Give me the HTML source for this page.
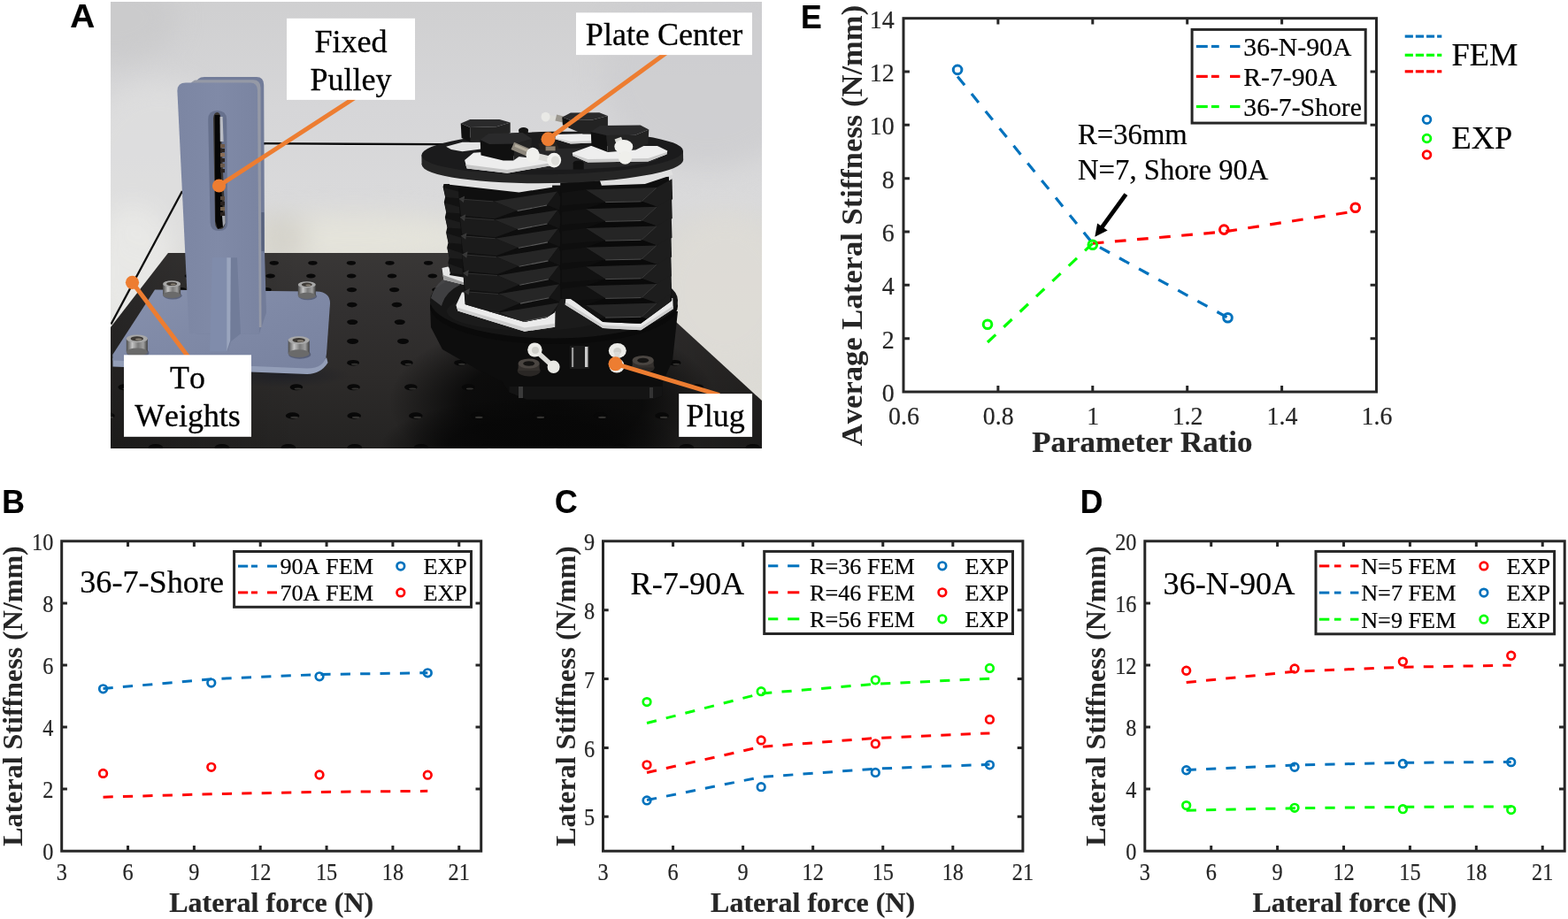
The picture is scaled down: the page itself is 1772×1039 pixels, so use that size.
<!DOCTYPE html>
<html lang="en"><head><meta charset="utf-8"><title>Lateral stiffness test</title>
<style>html,body{margin:0;padding:0;background:#fff}body{width:1772px;height:1039px;overflow:hidden}svg{display:block}text{white-space:pre;font-kerning:none;font-variant-ligatures:none}</style>
</head><body>
<svg width="1772" height="1039" viewBox="0 0 1772 1039" role="img" aria-label="Lateral stiffness test setup and results">
<rect width="1772" height="1039" fill="#fff"/>
<defs>
<clipPath id="pc"><rect x="125" y="2" width="736" height="505"/></clipPath>
<filter id="sf" x="-5%" y="-5%" width="110%" height="110%" color-interpolation-filters="sRGB"><feGaussianBlur stdDeviation="0.7"/></filter>
<filter id="bf" filterUnits="userSpaceOnUse" x="0" y="-150" width="1000" height="800" color-interpolation-filters="sRGB"><feGaussianBlur stdDeviation="14"/></filter>
<linearGradient id="bg" x1="0" y1="0" x2="0" y2="1"><stop offset="0" stop-color="#cfcfd0"/><stop offset="0.25" stop-color="#d6d6d8"/><stop offset="0.45" stop-color="#dadadb"/><stop offset="0.56" stop-color="#d8d7d3"/><stop offset="1" stop-color="#e0ded8"/></linearGradient>
<linearGradient id="tb" gradientUnits="userSpaceOnUse" x1="0" y1="286" x2="0" y2="507"><stop offset="0" stop-color="#393736"/><stop offset="0.3" stop-color="#323030"/><stop offset="0.62" stop-color="#2d2b2a"/><stop offset="1" stop-color="#242322"/></linearGradient>
<linearGradient id="tbr" x1="0" y1="0" x2="1" y2="0"><stop offset="0" stop-color="#000" stop-opacity="0.25"/><stop offset="0.3" stop-color="#000" stop-opacity="0"/><stop offset="0.75" stop-color="#000" stop-opacity="0"/><stop offset="1" stop-color="#000" stop-opacity="0.25"/></linearGradient>
<linearGradient id="st" x1="0" y1="0" x2="1" y2="0"><stop offset="0" stop-color="#7c86a3"/><stop offset="0.5" stop-color="#808aa7"/><stop offset="1" stop-color="#7a84a1"/></linearGradient>
<linearGradient id="bp" x1="0" y1="0" x2="1" y2="1"><stop offset="0" stop-color="#8791ad"/><stop offset="0.5" stop-color="#7f89a6"/><stop offset="1" stop-color="#78829f"/></linearGradient>
<linearGradient id="scr" x1="0" y1="0" x2="1" y2="0"><stop offset="0" stop-color="#4a4a4a"/><stop offset="0.28" stop-color="#c4c4c4"/><stop offset="0.55" stop-color="#7a7a7a"/><stop offset="0.8" stop-color="#a0a0a0"/><stop offset="1" stop-color="#3e3e3e"/></linearGradient>
<linearGradient id="bl" x1="0" y1="0" x2="1" y2="0"><stop offset="0" stop-color="#141414"/><stop offset="0.35" stop-color="#262626"/><stop offset="1" stop-color="#161616"/></linearGradient>
</defs>
<g clip-path="url(#pc)">
<g filter="url(#sf)">
<rect x="115" y="-8" width="756" height="525" fill="url(#bg)" />
<g filter="url(#bf)">
<ellipse cx="180" cy="190" rx="90" ry="100" fill="#dedede" opacity="0.8"/>
<ellipse cx="130" cy="20" rx="70" ry="50" fill="#c9c9ca" opacity="0.8"/>
<ellipse cx="800" cy="80" rx="120" ry="110" fill="#cdcdcf" opacity="0.8"/>
<ellipse cx="400" cy="272" rx="150" ry="30" fill="#e6e4dc" opacity="0.9"/>
<ellipse cx="318" cy="270" rx="30" ry="26" fill="#d0cec6" opacity="0.8"/>
<ellipse cx="820" cy="330" rx="80" ry="90" fill="#dedcd6" opacity="0.9"/>
<ellipse cx="150" cy="310" rx="50" ry="80" fill="#e9e9e7" opacity="0.95"/>
</g>
<polygon points="190,286 679,286 861,453 861,517 115,517 115,383" fill="url(#tb)" />
<polygon points="190,286 679,286 861,453 861,517 115,517 115,383" fill="url(#tbr)" />
<radialGradient id="sh"><stop offset="0" stop-color="#070707" stop-opacity="0.95"/><stop offset="0.55" stop-color="#070707" stop-opacity="0.85"/><stop offset="1" stop-color="#070707" stop-opacity="0"/></radialGradient>
<ellipse cx="625" cy="455" rx="185" ry="95" fill="url(#sh)" />
<ellipse cx="600" cy="505" rx="170" ry="55" fill="url(#sh)" />
<radialGradient id="sh2"><stop offset="0" stop-color="#1c1e26" stop-opacity="0.8"/><stop offset="1" stop-color="#1c1e26" stop-opacity="0"/></radialGradient>
<ellipse cx="320" cy="424" rx="75" ry="14" fill="url(#sh2)" />
<ellipse cx="222.7" cy="297.3" rx="5.1" ry="2.4" fill="#080808" />
<ellipse cx="266.2" cy="297.3" rx="5.1" ry="2.4" fill="#080808" />
<ellipse cx="309.8" cy="297.3" rx="5.1" ry="2.4" fill="#080808" />
<ellipse cx="353.4" cy="297.3" rx="5.1" ry="2.4" fill="#080808" />
<ellipse cx="396.9" cy="297.3" rx="5.1" ry="2.4" fill="#080808" />
<ellipse cx="440.5" cy="297.3" rx="5.1" ry="2.4" fill="#080808" />
<ellipse cx="484.1" cy="297.3" rx="5.1" ry="2.4" fill="#080808" />
<ellipse cx="527.6" cy="297.3" rx="5.1" ry="2.4" fill="#080808" />
<ellipse cx="571.2" cy="297.3" rx="5.1" ry="2.4" fill="#080808" />
<ellipse cx="614.8" cy="297.3" rx="5.1" ry="2.4" fill="#080808" />
<ellipse cx="658.3" cy="297.3" rx="5.1" ry="2.4" fill="#080808" />
<ellipse cx="214" cy="312.1" rx="5.3" ry="2.5" fill="#080808" />
<ellipse cx="259.8" cy="312.1" rx="5.3" ry="2.5" fill="#080808" />
<ellipse cx="305.6" cy="312.1" rx="5.3" ry="2.5" fill="#080808" />
<ellipse cx="351.4" cy="312.1" rx="5.3" ry="2.5" fill="#080808" />
<ellipse cx="397.2" cy="312.1" rx="5.3" ry="2.5" fill="#080808" />
<ellipse cx="443" cy="312.1" rx="5.3" ry="2.5" fill="#080808" />
<ellipse cx="488.8" cy="312.1" rx="5.3" ry="2.5" fill="#080808" />
<ellipse cx="534.6" cy="312.1" rx="5.3" ry="2.5" fill="#080808" />
<ellipse cx="580.4" cy="312.1" rx="5.3" ry="2.5" fill="#080808" />
<ellipse cx="626.2" cy="312.1" rx="5.3" ry="2.5" fill="#080808" />
<ellipse cx="672" cy="312.1" rx="5.3" ry="2.5" fill="#080808" />
<ellipse cx="205" cy="327.6" rx="5.6" ry="2.6" fill="#080808" />
<ellipse cx="253.1" cy="327.6" rx="5.6" ry="2.6" fill="#080808" />
<ellipse cx="301.2" cy="327.6" rx="5.6" ry="2.6" fill="#080808" />
<ellipse cx="349.4" cy="327.6" rx="5.6" ry="2.6" fill="#080808" />
<ellipse cx="397.5" cy="327.6" rx="5.6" ry="2.6" fill="#080808" />
<ellipse cx="445.6" cy="327.6" rx="5.6" ry="2.6" fill="#080808" />
<ellipse cx="493.8" cy="327.6" rx="5.6" ry="2.6" fill="#080808" />
<ellipse cx="541.9" cy="327.6" rx="5.6" ry="2.6" fill="#080808" />
<ellipse cx="590" cy="327.6" rx="5.6" ry="2.6" fill="#080808" />
<ellipse cx="638.2" cy="327.6" rx="5.6" ry="2.6" fill="#080808" />
<ellipse cx="686.3" cy="327.6" rx="5.6" ry="2.6" fill="#080808" />
<ellipse cx="195.1" cy="344.6" rx="5.8" ry="2.8" fill="#080808" />
<ellipse cx="245.8" cy="344.6" rx="5.8" ry="2.8" fill="#080808" />
<ellipse cx="296.4" cy="344.6" rx="5.8" ry="2.8" fill="#080808" />
<ellipse cx="347.1" cy="344.6" rx="5.8" ry="2.8" fill="#080808" />
<ellipse cx="397.8" cy="344.6" rx="5.8" ry="2.8" fill="#080808" />
<ellipse cx="448.5" cy="344.6" rx="5.8" ry="2.8" fill="#080808" />
<ellipse cx="499.2" cy="344.6" rx="5.8" ry="2.8" fill="#080808" />
<ellipse cx="549.9" cy="344.6" rx="5.8" ry="2.8" fill="#080808" />
<ellipse cx="600.6" cy="344.6" rx="5.8" ry="2.8" fill="#080808" />
<ellipse cx="651.3" cy="344.6" rx="5.8" ry="2.8" fill="#080808" />
<ellipse cx="702" cy="344.6" rx="5.8" ry="2.8" fill="#080808" />
<ellipse cx="183.7" cy="364.1" rx="6.1" ry="2.9" fill="#080808" />
<ellipse cx="237.3" cy="364.1" rx="6.1" ry="2.9" fill="#080808" />
<ellipse cx="290.9" cy="364.1" rx="6.1" ry="2.9" fill="#080808" />
<ellipse cx="344.6" cy="364.1" rx="6.1" ry="2.9" fill="#080808" />
<ellipse cx="398.2" cy="364.1" rx="6.1" ry="2.9" fill="#080808" />
<ellipse cx="451.8" cy="364.1" rx="6.1" ry="2.9" fill="#080808" />
<ellipse cx="505.5" cy="364.1" rx="6.1" ry="2.9" fill="#080808" />
<ellipse cx="559.1" cy="364.1" rx="6.1" ry="2.9" fill="#080808" />
<ellipse cx="612.7" cy="364.1" rx="6.1" ry="2.9" fill="#080808" />
<ellipse cx="666.3" cy="364.1" rx="6.1" ry="2.9" fill="#080808" />
<ellipse cx="720" cy="364.1" rx="6.1" ry="2.9" fill="#080808" />
<ellipse cx="171" cy="385.8" rx="6.5" ry="3.1" fill="#080808" />
<ellipse cx="227.9" cy="385.8" rx="6.5" ry="3.1" fill="#080808" />
<ellipse cx="284.8" cy="385.8" rx="6.5" ry="3.1" fill="#080808" />
<ellipse cx="341.7" cy="385.8" rx="6.5" ry="3.1" fill="#080808" />
<ellipse cx="398.6" cy="385.8" rx="6.5" ry="3.1" fill="#080808" />
<ellipse cx="455.5" cy="385.8" rx="6.5" ry="3.1" fill="#080808" />
<ellipse cx="512.4" cy="385.8" rx="6.5" ry="3.1" fill="#080808" />
<ellipse cx="569.3" cy="385.8" rx="6.5" ry="3.1" fill="#080808" />
<ellipse cx="626.2" cy="385.8" rx="6.5" ry="3.1" fill="#080808" />
<ellipse cx="683.1" cy="385.8" rx="6.5" ry="3.1" fill="#080808" />
<ellipse cx="740" cy="385.8" rx="6.5" ry="3.1" fill="#080808" />
<ellipse cx="156.8" cy="410.2" rx="6.9" ry="3.3" fill="#080808" />
<ellipse cx="158.5" cy="411.8" rx="3.8" ry="1" fill="#5a5754" opacity="0.55"/>
<ellipse cx="217.4" cy="410.2" rx="6.9" ry="3.3" fill="#080808" />
<ellipse cx="219.1" cy="411.8" rx="3.8" ry="1" fill="#5a5754" opacity="0.55"/>
<ellipse cx="277.9" cy="410.2" rx="6.9" ry="3.3" fill="#080808" />
<ellipse cx="279.7" cy="411.8" rx="3.8" ry="1" fill="#5a5754" opacity="0.55"/>
<ellipse cx="338.5" cy="410.2" rx="6.9" ry="3.3" fill="#080808" />
<ellipse cx="340.2" cy="411.8" rx="3.8" ry="1" fill="#5a5754" opacity="0.55"/>
<ellipse cx="399.1" cy="410.2" rx="6.9" ry="3.3" fill="#080808" />
<ellipse cx="400.8" cy="411.8" rx="3.8" ry="1" fill="#5a5754" opacity="0.55"/>
<ellipse cx="459.7" cy="410.2" rx="6.9" ry="3.3" fill="#080808" />
<ellipse cx="461.4" cy="411.8" rx="3.8" ry="1" fill="#5a5754" opacity="0.55"/>
<ellipse cx="520.2" cy="410.2" rx="6.9" ry="3.3" fill="#080808" />
<ellipse cx="521.9" cy="411.8" rx="3.8" ry="1" fill="#5a5754" opacity="0.55"/>
<ellipse cx="580.8" cy="410.2" rx="6.9" ry="3.3" fill="#080808" />
<ellipse cx="582.5" cy="411.8" rx="3.8" ry="1" fill="#5a5754" opacity="0.55"/>
<ellipse cx="641.4" cy="410.2" rx="6.9" ry="3.3" fill="#080808" />
<ellipse cx="643.1" cy="411.8" rx="3.8" ry="1" fill="#5a5754" opacity="0.55"/>
<ellipse cx="701.9" cy="410.2" rx="6.9" ry="3.3" fill="#080808" />
<ellipse cx="703.7" cy="411.8" rx="3.8" ry="1" fill="#5a5754" opacity="0.55"/>
<ellipse cx="762.5" cy="410.2" rx="6.9" ry="3.3" fill="#080808" />
<ellipse cx="764.2" cy="411.8" rx="3.8" ry="1" fill="#5a5754" opacity="0.55"/>
<ellipse cx="140.7" cy="437.8" rx="7.3" ry="3.5" fill="#080808" />
<ellipse cx="142.5" cy="439.5" rx="4" ry="1" fill="#5a5754" opacity="0.55"/>
<ellipse cx="205.4" cy="437.8" rx="7.3" ry="3.5" fill="#080808" />
<ellipse cx="207.2" cy="439.5" rx="4" ry="1" fill="#5a5754" opacity="0.55"/>
<ellipse cx="270.2" cy="437.8" rx="7.3" ry="3.5" fill="#080808" />
<ellipse cx="272" cy="439.5" rx="4" ry="1" fill="#5a5754" opacity="0.55"/>
<ellipse cx="334.9" cy="437.8" rx="7.3" ry="3.5" fill="#080808" />
<ellipse cx="336.7" cy="439.5" rx="4" ry="1" fill="#5a5754" opacity="0.55"/>
<ellipse cx="399.6" cy="437.8" rx="7.3" ry="3.5" fill="#080808" />
<ellipse cx="401.4" cy="439.5" rx="4" ry="1" fill="#5a5754" opacity="0.55"/>
<ellipse cx="464.3" cy="437.8" rx="7.3" ry="3.5" fill="#080808" />
<ellipse cx="466.2" cy="439.5" rx="4" ry="1" fill="#5a5754" opacity="0.55"/>
<ellipse cx="529.1" cy="437.8" rx="7.3" ry="3.5" fill="#080808" />
<ellipse cx="530.9" cy="439.5" rx="4" ry="1" fill="#5a5754" opacity="0.55"/>
<ellipse cx="593.8" cy="437.8" rx="7.3" ry="3.5" fill="#080808" />
<ellipse cx="595.6" cy="439.5" rx="4" ry="1" fill="#5a5754" opacity="0.55"/>
<ellipse cx="658.5" cy="437.8" rx="7.3" ry="3.5" fill="#080808" />
<ellipse cx="660.3" cy="439.5" rx="4" ry="1" fill="#5a5754" opacity="0.55"/>
<ellipse cx="723.2" cy="437.8" rx="7.3" ry="3.5" fill="#080808" />
<ellipse cx="725.1" cy="439.5" rx="4" ry="1" fill="#5a5754" opacity="0.55"/>
<ellipse cx="788" cy="437.8" rx="7.3" ry="3.5" fill="#080808" />
<ellipse cx="789.8" cy="439.5" rx="4" ry="1" fill="#5a5754" opacity="0.55"/>
<ellipse cx="121.9" cy="470" rx="7.8" ry="3.7" fill="#080808" />
<ellipse cx="123.9" cy="471.9" rx="4.3" ry="1.1" fill="#5a5754" opacity="0.55"/>
<ellipse cx="191.5" cy="470" rx="7.8" ry="3.7" fill="#080808" />
<ellipse cx="193.4" cy="471.9" rx="4.3" ry="1.1" fill="#5a5754" opacity="0.55"/>
<ellipse cx="261.1" cy="470" rx="7.8" ry="3.7" fill="#080808" />
<ellipse cx="263" cy="471.9" rx="4.3" ry="1.1" fill="#5a5754" opacity="0.55"/>
<ellipse cx="330.6" cy="470" rx="7.8" ry="3.7" fill="#080808" />
<ellipse cx="332.6" cy="471.9" rx="4.3" ry="1.1" fill="#5a5754" opacity="0.55"/>
<ellipse cx="400.2" cy="470" rx="7.8" ry="3.7" fill="#080808" />
<ellipse cx="402.2" cy="471.9" rx="4.3" ry="1.1" fill="#5a5754" opacity="0.55"/>
<ellipse cx="469.8" cy="470" rx="7.8" ry="3.7" fill="#080808" />
<ellipse cx="471.7" cy="471.9" rx="4.3" ry="1.1" fill="#5a5754" opacity="0.55"/>
<ellipse cx="539.4" cy="470" rx="7.8" ry="3.7" fill="#080808" />
<ellipse cx="541.3" cy="471.9" rx="4.3" ry="1.1" fill="#5a5754" opacity="0.55"/>
<ellipse cx="609" cy="470" rx="7.8" ry="3.7" fill="#080808" />
<ellipse cx="610.9" cy="471.9" rx="4.3" ry="1.1" fill="#5a5754" opacity="0.55"/>
<ellipse cx="678.5" cy="470" rx="7.8" ry="3.7" fill="#080808" />
<ellipse cx="680.5" cy="471.9" rx="4.3" ry="1.1" fill="#5a5754" opacity="0.55"/>
<ellipse cx="748.1" cy="470" rx="7.8" ry="3.7" fill="#080808" />
<ellipse cx="750.1" cy="471.9" rx="4.3" ry="1.1" fill="#5a5754" opacity="0.55"/>
<ellipse cx="817.7" cy="470" rx="7.8" ry="3.7" fill="#080808" />
<ellipse cx="819.6" cy="471.9" rx="4.3" ry="1.1" fill="#5a5754" opacity="0.55"/>
<ellipse cx="100.9" cy="506" rx="8.3" ry="4" fill="#080808" />
<ellipse cx="103" cy="508" rx="4.6" ry="1.2" fill="#5a5754" opacity="0.55"/>
<ellipse cx="175.9" cy="506" rx="8.3" ry="4" fill="#080808" />
<ellipse cx="178" cy="508" rx="4.6" ry="1.2" fill="#5a5754" opacity="0.55"/>
<ellipse cx="250.9" cy="506" rx="8.3" ry="4" fill="#080808" />
<ellipse cx="253" cy="508" rx="4.6" ry="1.2" fill="#5a5754" opacity="0.55"/>
<ellipse cx="325.9" cy="506" rx="8.3" ry="4" fill="#080808" />
<ellipse cx="328" cy="508" rx="4.6" ry="1.2" fill="#5a5754" opacity="0.55"/>
<ellipse cx="400.9" cy="506" rx="8.3" ry="4" fill="#080808" />
<ellipse cx="403" cy="508" rx="4.6" ry="1.2" fill="#5a5754" opacity="0.55"/>
<ellipse cx="475.9" cy="506" rx="8.3" ry="4" fill="#080808" />
<ellipse cx="478" cy="508" rx="4.6" ry="1.2" fill="#5a5754" opacity="0.55"/>
<ellipse cx="550.9" cy="506" rx="8.3" ry="4" fill="#080808" />
<ellipse cx="553" cy="508" rx="4.6" ry="1.2" fill="#5a5754" opacity="0.55"/>
<ellipse cx="625.9" cy="506" rx="8.3" ry="4" fill="#080808" />
<ellipse cx="628" cy="508" rx="4.6" ry="1.2" fill="#5a5754" opacity="0.55"/>
<ellipse cx="700.9" cy="506" rx="8.3" ry="4" fill="#080808" />
<ellipse cx="703" cy="508" rx="4.6" ry="1.2" fill="#5a5754" opacity="0.55"/>
<ellipse cx="775.9" cy="506" rx="8.3" ry="4" fill="#080808" />
<ellipse cx="778" cy="508" rx="4.6" ry="1.2" fill="#5a5754" opacity="0.55"/>
<ellipse cx="850.9" cy="506" rx="8.3" ry="4" fill="#080808" />
<ellipse cx="853" cy="508" rx="4.6" ry="1.2" fill="#5a5754" opacity="0.55"/>
<line x1="206" y1="216" x2="125.5" y2="366.5" stroke="#0d0d0d" stroke-width="2.3" />
<path d="M293.5 162.2 L495 163.2 L545 162.7" fill="none" stroke="#0c0c0c" stroke-width="2.5"/>
<path d="M300 164 L495 165 L540 164.5" fill="none" stroke="#fff" stroke-width="0.8" opacity="0.6"/>
<path d="M127.5 405 L347 414.5 Q362 414.5 369 404 L370.5 410 Q363 422.5 347 423 L127.5 414.5 Z" fill="#939eb8"/>
<path d="M175 327.5 L358 329.5 Q373 330 373 343 L369 400 Q367.5 416.5 347 416.5 L127.5 407.5 L127.3 401 Z" fill="url(#bp)"/>
<ellipse cx="195.1" cy="334.2" rx="10.5" ry="4.2" fill="#3c4258" opacity="0.55"/>
<rect x="184.1" y="320.9" width="20" height="12.5" fill="url(#scr)" />
<ellipse cx="194.1" cy="333.4" rx="10" ry="3.6" fill="#6a6a6a" />
<ellipse cx="194.1" cy="320.9" rx="10" ry="3.6" fill="#a8a8a8" />
<ellipse cx="194.1" cy="320.9" rx="6" ry="2.2" fill="#3e3a36" />
<ellipse cx="195.6" cy="321.5" rx="3" ry="1" fill="#8a8378" />
<ellipse cx="347.8" cy="335.1" rx="10.5" ry="4.2" fill="#3c4258" opacity="0.55"/>
<rect x="336.8" y="321.8" width="20" height="12.5" fill="url(#scr)" />
<ellipse cx="346.8" cy="334.3" rx="10" ry="3.6" fill="#6a6a6a" />
<ellipse cx="346.8" cy="321.8" rx="10" ry="3.6" fill="#a8a8a8" />
<ellipse cx="346.8" cy="321.8" rx="6" ry="2.2" fill="#3e3a36" />
<ellipse cx="348.3" cy="322.4" rx="3" ry="1" fill="#8a8378" />
<ellipse cx="155.8" cy="398.9" rx="12.6" ry="5" fill="#3c4258" opacity="0.55"/>
<rect x="142.8" y="382.9" width="24" height="15" fill="url(#scr)" />
<ellipse cx="154.8" cy="397.9" rx="12" ry="4.3" fill="#6a6a6a" />
<ellipse cx="154.8" cy="382.9" rx="12" ry="4.3" fill="#a8a8a8" />
<ellipse cx="154.8" cy="382.9" rx="7.2" ry="2.6" fill="#3e3a36" />
<ellipse cx="156.6" cy="383.6" rx="3.6" ry="1.2" fill="#8a8378" />
<ellipse cx="338.7" cy="400.7" rx="12.6" ry="5" fill="#3c4258" opacity="0.55"/>
<rect x="325.7" y="384.6" width="24" height="15" fill="url(#scr)" />
<ellipse cx="337.7" cy="399.6" rx="12" ry="4.3" fill="#6a6a6a" />
<ellipse cx="337.7" cy="384.6" rx="12" ry="4.3" fill="#a8a8a8" />
<ellipse cx="337.7" cy="384.6" rx="7.2" ry="2.6" fill="#3e3a36" />
<ellipse cx="339.5" cy="385.4" rx="3.6" ry="1.2" fill="#8a8378" />
<path d="M221 96 Q222 87 231 87 L290 87 Q298 87 298.2 96 L299 284 L301 353.5 L293 377.2 L221 377.2 Z" fill="#727c99"/>
<path d="M214 100 Q214.5 90.3 224 90.3 L286 90.3 Q294.3 90.3 294.5 99 L295.5 370 L214 370 Z" fill="#9599a6"/>
<polygon points="295.3,240 298.4,240 298.6,284 295.5,284" fill="#58627d" />
<path d="M213.65 377.2 L200.4 103 Q200.2 93.4 210 93.4 L283 93.4 Q290.8 93.4 291 102 L292.9 377.2 Z" fill="url(#st)"/>
<path d="M235.2 135 Q235.2 125 245.5 125 Q256 125 256.2 135 L257.2 252 Q257.2 261 247.5 261 Q238 261 237.6 252 Z" fill="#67718d"/>
<path d="M241 134 Q241.5 127 245.5 127 Q249 127 249.2 134 L254.6 250 Q254.6 259 248.6 259 Q243.2 259 243 251 Z" fill="#3a3632"/>
<path d="M242.6 130 L248.4 130 L250 210 L253 256 L246 259 L243.4 250 Z" fill="#060606"/>
<path d="M248.6 132 L251.6 132 L252.6 160 L248.8 160 Z" fill="#b9bcc4"/>
<rect x="249" y="163" width="5" height="4.2" fill="#6f5a49" />
<rect x="249" y="168" width="5" height="4.2" fill="#2a2320" />
<rect x="249" y="173" width="5" height="4.2" fill="#8a6e58" />
<rect x="249" y="179" width="5" height="4.2" fill="#2a2320" />
<rect x="249" y="185" width="5" height="4.2" fill="#6b5a4c" />
<rect x="249" y="191" width="5" height="4.2" fill="#2a2320" />
<rect x="249" y="222" width="5" height="4.2" fill="#5a4a3e" />
<rect x="249" y="228" width="5" height="4.2" fill="#2a2320" />
<rect x="249" y="234" width="5" height="4.2" fill="#75624f" />
<rect x="249" y="240" width="5" height="4.2" fill="#2a2320" />
<polygon points="251,244 254.4,244 254.6,252 252,257" fill="#a5a8b0" />
<polygon points="260.8,291.2 268,291.2 272,377.2 261,386 257,397.3" fill="#717c99" />
<polygon points="239.8,291.2 256.3,291.2 256.3,397.3 237.1,397.3" fill="#808cab" />
<polygon points="256.3,291.2 260.8,291.2 260.2,385 256.3,397.3" fill="#9aa5be" />
<polygon points="486,345 766,352 760,408 748.8,432 748.8,447.5 737,451.4 595,451.4 575.5,443.6 567,431 540,418 500,395 487,370" fill="#0d0d0d" />
<polygon points="575.5,437 748.8,437 748.8,447.5 737,451.4 595,451.4 575.5,443.6" fill="#141414" />
<rect x="586" y="437" width="5" height="13" fill="#3a3a3a" />
<rect x="734" y="438" width="4" height="12" fill="#333" />
<ellipse cx="597.7" cy="419" rx="13" ry="6.5" fill="#2a2725" />
<rect x="585.7" y="411" width="24" height="8" fill="#34302d" />
<ellipse cx="597.7" cy="411" rx="12" ry="5.5" fill="#4a4541" />
<ellipse cx="597.7" cy="411" rx="6.5" ry="2.8" fill="#151413" />
<ellipse cx="726.7" cy="415.5" rx="13" ry="6.5" fill="#2a2725" />
<rect x="714.7" y="407.5" width="24" height="8" fill="#34302d" />
<ellipse cx="726.7" cy="407.5" rx="12" ry="5.5" fill="#4a4541" />
<ellipse cx="726.7" cy="407.5" rx="6.5" ry="2.8" fill="#151413" />
<rect x="644" y="391" width="22" height="26" fill="#1b1b1b" />
<rect x="646" y="393" width="2.2" height="22" fill="#9a9a9a" />
<rect x="661" y="392" width="3.4" height="23" fill="#c9c9c9" />
<ellipse cx="626" cy="346" rx="140" ry="43" fill="#0a0a0a" />
<ellipse cx="626" cy="339.5" rx="140" ry="43" fill="#161616" />
<ellipse cx="600" cy="352" rx="95" ry="22" fill="#202020" opacity="0.6"/>
<path d="M487 337 Q492 318 512 309 L520 322 Q503 330 499 346 Z" fill="#4a4a4c" opacity="0.8"/>
<polygon points="499.5,303.1 506.2,301.6 524.5,312.7 524.5,322 501.4,316.2" fill="#e6e6e6" />
<polygon points="500.4,310.8 524.5,319.5 524.5,322 501.4,316.2" fill="#9c9c9c" />
<polygon points="515.4,345.1 522,330.4 527.4,330.4 627.5,351.6 627.1,369.7 592.8,374.7 517.4,351.6" fill="#ebebeb" />
<polygon points="516.2,347.4 592.8,370.5 627.1,365.7 627.1,369.7 592.8,374.7 517.4,351.6" fill="#cfcfcf" />
<polygon points="638.7,344.5 639.8,334.3 645.2,330.4 760.3,337 760.7,349.3 724.2,373.2 681.4,370.9" fill="#e9e9e9" />
<polygon points="639.1,341.2 681.4,367.6 724.2,369.7 760.7,345.8 760.7,349.3 724.2,373.2 681.4,370.9 638.7,344.5" fill="#cdcdcd" />
<clipPath id="cl"><polygon points="495,195 636,195 634.2,335.8 626.7,353.2 617.9,358.9 592.8,363.9 523.5,343.5 522,337.8 524.5,322 501.4,308.9 495,300"/></clipPath>
<clipPath id="cr"><polygon points="632,190 765,190 765,330 759.6,339.7 723.8,365.9 681.4,363.9 644.8,337.8 633.3,337.8"/></clipPath>
<g clip-path="url(#cl)">
<polygon points="501.5,208 500.6,211.3 503.1,222.7 501.8,228.4 504.2,239.9 502.9,245.6 505.4,257.1 504.1,262.8 506.5,274.2 505.2,280 507.7,291.4 506.4,297.1 508.8,308.6 508,311.1 527.6,314.3 527.6,208" fill="#121212" />
<polygon points="501.1,212.1 522.7,217.8 522.7,224.4 503.4,223" fill="#1c1c1c" />
<polygon points="502.3,229.3 522.7,235 522.7,241.5 504.6,240.2" fill="#1c1c1c" />
<polygon points="503.4,246.4 522.7,252.2 522.7,258.7 505.7,257.4" fill="#1c1c1c" />
<polygon points="504.6,263.6 522.7,269.3 522.7,275.9 506.8,274.6" fill="#1c1c1c" />
<polygon points="505.7,280.8 522.7,286.5 522.7,293.1 508,291.8" fill="#1c1c1c" />
<polygon points="506.8,298 522.7,303.7 522.7,310.2 509.1,308.9" fill="#1c1c1c" />
<polygon points="517.8,210.4 638,209.6 638,394.5 528.4,394.5" fill="#0f0f0f" />
<polygon points="518.6,224.7 557.9,227.6 584.1,238.3 558.7,247.3 521.1,243.7" fill="#1b1b1b" />
<polygon points="557.9,227.6 629.9,216.5 618.4,231.7 584.1,238.3" fill="#262626" />
<polygon points="584.1,238.3 618.4,231.7 632,237.4 562,248.1" fill="#0e0e0e" />
<polygon points="518.6,224.7 525.2,221.4 523.9,228.9" fill="#3a3a3a" />
<polygon points="618.4,231.7 629.9,216.5 634,224.4 632,237.4" fill="#151515" />
<line x1="584.6" y1="238.4" x2="618.1" y2="232" stroke="#5a5a5a" stroke-width="1.1" />
<line x1="519.4" y1="225" x2="557.4" y2="227.8" stroke="#333" stroke-width="0.9" />
<polygon points="519.8,245.6 559,248.6 584.7,259.2 559.9,268.2 522.2,264.6" fill="#1b1b1b" />
<polygon points="559,248.6 630.3,237.4 618.9,252.7 584.7,259.2" fill="#262626" />
<polygon points="584.7,259.2 618.9,252.7 632.3,258.4 563.1,269" fill="#0e0e0e" />
<polygon points="519.8,245.6 526.3,242.3 525,249.9" fill="#3a3a3a" />
<polygon points="618.9,252.7 630.3,237.4 634,245.3 632.3,258.4" fill="#151515" />
<line x1="585.2" y1="259.4" x2="618.5" y2="253" stroke="#5a5a5a" stroke-width="1.1" />
<line x1="520.6" y1="245.9" x2="558.5" y2="248.7" stroke="#333" stroke-width="0.9" />
<polygon points="520.9,266.6 560.2,269.5 585.4,280.1 561,289.1 523.4,285.5" fill="#1b1b1b" />
<polygon points="560.2,269.5 630.8,258.4 619.3,273.6 585.4,280.1" fill="#262626" />
<polygon points="585.4,280.1 619.3,273.6 632.7,279.3 564.3,290" fill="#0e0e0e" />
<polygon points="520.9,266.6 527.5,263.3 526.2,270.8" fill="#3a3a3a" />
<polygon points="619.3,273.6 630.8,258.4 634,266.2 632.7,279.3" fill="#151515" />
<line x1="585.9" y1="280.3" x2="619" y2="273.9" stroke="#5a5a5a" stroke-width="1.1" />
<line x1="521.7" y1="266.9" x2="559.7" y2="269.7" stroke="#333" stroke-width="0.9" />
<polygon points="522.1,287.5 561.3,290.4 586.1,301.1 562.1,310.1 524.5,306.5" fill="#1b1b1b" />
<polygon points="561.3,290.4 631.2,279.3 619.8,294.5 586.1,301.1" fill="#262626" />
<polygon points="586.1,301.1 619.8,294.5 633,300.3 565.4,310.9" fill="#0e0e0e" />
<polygon points="522.1,287.5 528.6,284.2 527.3,291.8" fill="#3a3a3a" />
<polygon points="619.8,294.5 631.2,279.3 634,287.2 633,300.3" fill="#151515" />
<line x1="586.6" y1="301.2" x2="619.5" y2="294.9" stroke="#5a5a5a" stroke-width="1.1" />
<line x1="522.9" y1="287.8" x2="560.8" y2="290.6" stroke="#333" stroke-width="0.9" />
<polygon points="523.2,308.4 562.5,311.4 586.8,322 563.3,331 525.7,327.4" fill="#1b1b1b" />
<polygon points="562.5,311.4 631.7,300.3 620.2,315.5 586.8,322" fill="#262626" />
<polygon points="586.8,322 620.2,315.5 633.4,321.2 566.6,331.8" fill="#0e0e0e" />
<polygon points="523.2,308.4 529.8,305.2 528.4,312.7" fill="#3a3a3a" />
<polygon points="620.2,315.5 631.7,300.3 634,308.1 633.4,321.2" fill="#151515" />
<line x1="587.3" y1="322.2" x2="619.9" y2="315.8" stroke="#5a5a5a" stroke-width="1.1" />
<line x1="524" y1="308.8" x2="562" y2="311.5" stroke="#333" stroke-width="0.9" />
<polygon points="524.4,329.4 563.6,332.3 587.5,343 564.4,351.9 526.8,348.4" fill="#1b1b1b" />
<polygon points="563.6,332.3 632.2,321.2 620.7,336.4 587.5,343" fill="#262626" />
<polygon points="587.5,343 620.7,336.4 633.7,342.1 567.7,352.8" fill="#0e0e0e" />
<polygon points="524.4,329.4 530.9,326.1 529.6,333.6" fill="#3a3a3a" />
<polygon points="620.7,336.4 632.2,321.2 634,329 633.7,342.1" fill="#151515" />
<line x1="588" y1="343.1" x2="620.4" y2="336.7" stroke="#5a5a5a" stroke-width="1.1" />
<line x1="525.2" y1="329.7" x2="563.1" y2="332.5" stroke="#333" stroke-width="0.9" />
<polygon points="525.5,350.3 564.8,353.3 588.2,363.9 565.6,372.9 528,369.3" fill="#1b1b1b" />
<polygon points="564.8,353.3 632.6,342.1 621.2,357.3 588.2,363.9" fill="#262626" />
<polygon points="588.2,363.9 621.2,357.3 634.1,363.1 568.8,373.7" fill="#0e0e0e" />
<polygon points="525.5,350.3 532,347 530.7,354.6" fill="#3a3a3a" />
<polygon points="621.2,357.3 632.6,342.1 634,350 634.1,363.1" fill="#151515" />
<line x1="588.7" y1="364.1" x2="620.8" y2="357.7" stroke="#5a5a5a" stroke-width="1.1" />
<line x1="526.3" y1="350.6" x2="564.3" y2="353.4" stroke="#333" stroke-width="0.9" />
<polygon points="526.6,371.3 565.9,374.2 588.9,384.8 566.7,393.8 529.1,390.2" fill="#1b1b1b" />
<polygon points="565.9,374.2 633.1,363.1 621.6,378.3 588.9,384.8" fill="#262626" />
<polygon points="588.9,384.8 621.6,378.3 634.4,384 570,394.6" fill="#0e0e0e" />
<polygon points="526.6,371.3 533.2,368 531.9,375.5" fill="#3a3a3a" />
<polygon points="621.6,378.3 633.1,363.1 634,370.9 634.4,384" fill="#151515" />
<line x1="589.4" y1="385" x2="621.3" y2="378.6" stroke="#5a5a5a" stroke-width="1.1" />
<line x1="527.5" y1="371.6" x2="565.4" y2="374.4" stroke="#333" stroke-width="0.9" />
<polygon points="527.8,392.2 567,395.1 589.6,405.8 567.9,414.8 530.2,411.2" fill="#1b1b1b" />
<polygon points="567,395.1 633.5,384 622.1,399.2 589.6,405.8" fill="#262626" />
<polygon points="589.6,405.8 622.1,399.2 634.7,405 571.1,415.6" fill="#0e0e0e" />
<polygon points="527.8,392.2 534.3,388.9 533,396.4" fill="#3a3a3a" />
<polygon points="622.1,399.2 633.5,384 634,391.9 634.7,405" fill="#151515" />
<line x1="590" y1="405.9" x2="621.8" y2="399.6" stroke="#5a5a5a" stroke-width="1.1" />
<line x1="528.6" y1="392.5" x2="566.6" y2="395.3" stroke="#333" stroke-width="0.9" />
</g>
<polygon points="634,211.3 634.8,208 644.8,337.8 634.2,337.8" fill="#080808" />
<g clip-path="url(#cr)">
<polygon points="633.2,206.4 755.9,199.8 760.8,402.7 633.2,402.7" fill="#0e0e0e" />
<polygon points="742,212.1 759.5,202.3 760.1,225.2 742.5,233.8 724.8,227.6" fill="#1d1d1d" />
<polygon points="661.8,214.5 742,212.1 724.8,227.6 683.9,228.4" fill="#252525" />
<polygon points="683.9,228.4 724.8,227.6 742,233.8 661.8,236.3" fill="#0a0a0a" />
<polygon points="634.8,217.8 661.8,214.5 683.9,228.4 634.8,232.5" fill="#121212" />
<line x1="684.2" y1="228.6" x2="724.5" y2="227.8" stroke="#4e4e4e" stroke-width="1.0" />
<line x1="725.1" y1="227.6" x2="741.8" y2="212.4" stroke="#3c3c3c" stroke-width="0.9" />
<polygon points="742,233.8 759.1,224 759.8,246.9 742.5,255.6 724.8,249.4" fill="#1d1d1d" />
<polygon points="661.8,236.3 742,233.8 724.8,249.4 683.9,250.2" fill="#252525" />
<polygon points="683.9,250.2 724.8,249.4 742,255.6 661.8,258.1" fill="#0a0a0a" />
<polygon points="634.8,239.6 661.8,236.3 683.9,250.2 634.8,254.3" fill="#121212" />
<line x1="684.2" y1="250.4" x2="724.5" y2="249.5" stroke="#4e4e4e" stroke-width="1.0" />
<line x1="725.1" y1="249.4" x2="741.8" y2="234.2" stroke="#3c3c3c" stroke-width="0.9" />
<polygon points="742,255.6 758.8,245.8 759.5,268.7 742.5,277.4 724.8,271.1" fill="#1d1d1d" />
<polygon points="661.8,258.1 742,255.6 724.8,271.1 683.9,272" fill="#252525" />
<polygon points="683.9,272 724.8,271.1 742,277.4 661.8,279.8" fill="#0a0a0a" />
<polygon points="634.8,261.3 661.8,258.1 683.9,272 634.8,276" fill="#121212" />
<line x1="684.2" y1="272.1" x2="724.5" y2="271.3" stroke="#4e4e4e" stroke-width="1.0" />
<line x1="725.1" y1="271.1" x2="741.8" y2="255.9" stroke="#3c3c3c" stroke-width="0.9" />
<polygon points="742,277.4 758.5,267.5 759.1,290.4 742.5,299.1 724.8,292.9" fill="#1d1d1d" />
<polygon points="661.8,279.8 742,277.4 724.8,292.9 683.9,293.7" fill="#252525" />
<polygon points="683.9,293.7 724.8,292.9 742,299.1 661.8,301.6" fill="#0a0a0a" />
<polygon points="634.8,283.1 661.8,279.8 683.9,293.7 634.8,297.8" fill="#121212" />
<line x1="684.2" y1="293.9" x2="724.5" y2="293.1" stroke="#4e4e4e" stroke-width="1.0" />
<line x1="725.1" y1="292.9" x2="741.8" y2="277.7" stroke="#3c3c3c" stroke-width="0.9" />
<polygon points="742,299.1 758.2,289.3 758.8,312.2 742.5,320.9 724.8,314.7" fill="#1d1d1d" />
<polygon points="661.8,301.6 742,299.1 724.8,314.7 683.9,315.5" fill="#252525" />
<polygon points="683.9,315.5 724.8,314.7 742,320.9 661.8,323.3" fill="#0a0a0a" />
<polygon points="634.8,304.8 661.8,301.6 683.9,315.5 634.8,319.6" fill="#121212" />
<line x1="684.2" y1="315.6" x2="724.5" y2="314.8" stroke="#4e4e4e" stroke-width="1.0" />
<line x1="725.1" y1="314.7" x2="741.8" y2="299.4" stroke="#3c3c3c" stroke-width="0.9" />
<polygon points="742,320.9 757.8,311.1 758.5,334 742.5,342.6 724.8,336.4" fill="#1d1d1d" />
<polygon points="661.8,323.3 742,320.9 724.8,336.4 683.9,337.2" fill="#252525" />
<polygon points="683.9,337.2 724.8,336.4 742,342.6 661.8,345.1" fill="#0a0a0a" />
<polygon points="634.8,326.6 661.8,323.3 683.9,337.2 634.8,341.3" fill="#121212" />
<line x1="684.2" y1="337.4" x2="724.5" y2="336.6" stroke="#4e4e4e" stroke-width="1.0" />
<line x1="725.1" y1="336.4" x2="741.8" y2="321.2" stroke="#3c3c3c" stroke-width="0.9" />
<polygon points="742,342.6 757.5,332.8 758.2,355.7 742.5,364.4 724.8,358.2" fill="#1d1d1d" />
<polygon points="661.8,345.1 742,342.6 724.8,358.2 683.9,359" fill="#252525" />
<polygon points="683.9,359 724.8,358.2 742,364.4 661.8,366.8" fill="#0a0a0a" />
<polygon points="634.8,348.4 661.8,345.1 683.9,359 634.8,363.1" fill="#121212" />
<line x1="684.2" y1="359.1" x2="724.5" y2="358.3" stroke="#4e4e4e" stroke-width="1.0" />
<line x1="725.1" y1="358.2" x2="741.8" y2="343" stroke="#3c3c3c" stroke-width="0.9" />
<polygon points="742,364.4 757.2,354.6 757.8,377.5 742.5,386.1 724.8,379.9" fill="#1d1d1d" />
<polygon points="661.8,366.8 742,364.4 724.8,379.9 683.9,380.7" fill="#252525" />
<polygon points="683.9,380.7 724.8,379.9 742,386.1 661.8,388.6" fill="#0a0a0a" />
<polygon points="634.8,370.1 661.8,366.8 683.9,380.7 634.8,384.8" fill="#121212" />
<line x1="684.2" y1="380.9" x2="724.5" y2="380.1" stroke="#4e4e4e" stroke-width="1.0" />
<line x1="725.1" y1="379.9" x2="741.8" y2="364.7" stroke="#3c3c3c" stroke-width="0.9" />
<polygon points="742,386.1 756.9,376.3 757.5,399.2 742.5,407.9 724.8,401.7" fill="#1d1d1d" />
<polygon points="661.8,388.6 742,386.1 724.8,401.7 683.9,402.5" fill="#252525" />
<polygon points="683.9,402.5 724.8,401.7 742,407.9 661.8,410.4" fill="#0a0a0a" />
<polygon points="634.8,391.9 661.8,388.6 683.9,402.5 634.8,406.6" fill="#121212" />
<line x1="684.2" y1="402.7" x2="724.5" y2="401.8" stroke="#4e4e4e" stroke-width="1.0" />
<line x1="725.1" y1="401.7" x2="741.8" y2="386.5" stroke="#3c3c3c" stroke-width="0.9" />
</g>
<polygon points="507.2,198 624.1,202 624.1,211.8 586.5,217.4 508,208.8" fill="#e2e2e2" />
<polygon points="676.4,200 756.9,188 760.6,197.4 728.9,208 679.9,209.7" fill="#e0e0e0" />
<g transform="rotate(-1 624 174)">
<ellipse cx="624.2" cy="183.5" rx="147.8" ry="23.6" fill="#252525" />
<rect x="476.4" y="173" width="295.6" height="10.5" fill="#252525" />
<ellipse cx="624.2" cy="173" rx="147.8" ry="24.2" fill="#1b1b1c" />
<ellipse cx="640" cy="180" rx="105" ry="12" fill="#2c2c2d" opacity="0.7"/>
</g>
<polygon points="504.1,165.7 522.5,160.8 543.5,160.8 543.5,168.4 522.5,171.3 509.9,168.9" fill="#e4e4e4" />
<polygon points="627.5,152.1 668.6,150.9 668.6,161.4 644.9,162.6 627.5,157.3" fill="#eeeeee" />
<polygon points="627.5,156.1 644.9,160.1 668.6,159.1 668.6,161.4 644.9,162.6 627.5,157.3" fill="#cfcfcf" />
<polygon points="525.1,181.1 535.1,172.7 545.2,171.9 628.3,182.4 624,187.1 573.2,195.8 527.7,190.6" fill="#ededed" />
<polygon points="526,185.9 573.2,192 626.6,183.6 624,187.1 573.2,195.8 527.7,190.6" fill="#c6c6c6" />
<polygon points="646.7,172.7 667.7,164.9 742.9,164.9 754.3,170.6 753.4,174.5 732.4,182.4 664.2,183.6 647.6,176.2" fill="#eeeeee" />
<polygon points="647,174.1 664.2,180.1 732.4,179 753.8,171.9 753.4,174.5 732.4,182.4 664.2,183.6 647.6,176.2" fill="#c9c9c9" />
<ellipse cx="591.6" cy="147" rx="5.5" ry="3" fill="#141414" />
<rect x="586.3" y="147" width="10.5" height="4" fill="#141414" />
<ellipse cx="653.7" cy="184.6" rx="6" ry="3.2" fill="#101010" />
<rect x="647.7" y="184.6" width="12" height="7" fill="#101010" />
<polygon points="608.2,162.2 628.3,160.8 631.8,167.5 620.5,171 610,168.4" fill="#26231f" />
<rect x="616.6" y="165.4" width="11" height="5" fill="#8a7f70" />
<line x1="618.7" y1="132.5" x2="637.9" y2="135.6" stroke="#dadad6" stroke-width="5.5" stroke-linecap="round"/>
<ellipse cx="616.6" cy="132.1" rx="5" ry="5.4" fill="#e9e9e6" />
<line x1="628.3" y1="133" x2="638.8" y2="135.6" stroke="#9b978f" stroke-width="7" />
<polygon points="520.7,139.5 531.2,143.9 531.6,160.8 521.6,156.1" fill="#101010" />
<polygon points="531.2,143.9 561,143.3 576.7,138.6 576.7,150 561,159.6 531.6,160.8" fill="#232323" />
<polygon points="520.7,139.5 531.2,135.1 564.5,135.1 576.7,138.6 561,143.3 531.2,143.9" fill="#2a2a2b" />
<polygon points="635.3,132.5 644.9,136 644.9,145.6 635.9,141.2" fill="#101010" />
<polygon points="644.9,136 669.4,135.6 686.9,131.1 686.9,143.9 671.2,151.7 658.9,151.4 644.9,145.6" fill="#232323" />
<polygon points="635.3,132.5 644.9,127.6 677.3,127.2 686.9,131.1 669.4,135.6 644.9,136" fill="#2a2a2b" />
<polygon points="542.6,157.9 553.1,163.1 582,162.6 580.2,181.5 568.8,181.5 543.5,175.4" fill="#101010" />
<polygon points="582,162.6 601.2,157 600.3,167.5 580.2,181.5" fill="#232323" />
<polygon points="542.6,157.9 552.2,150.9 590.7,150 601.2,157 582,162.6 553.1,163.1" fill="#2a2a2b" />
<polygon points="667.7,149.1 685.2,153.1 686.9,171.9 668.6,164.9" fill="#101010" />
<polygon points="685.2,153.1 718.4,152.6 733.3,146.5 732.4,162.6 718.4,169.6 686.9,171.9" fill="#232323" />
<polygon points="667.7,149.1 678.2,142.1 723.7,141.6 733.3,146.5 718.4,152.6 685.2,153.1" fill="#2a2a2b" />
<line x1="579.3" y1="164.9" x2="598.6" y2="173.1" stroke="#8e887d" stroke-width="9" />
<line x1="582" y1="164.3" x2="598.6" y2="171.3" stroke="#b5ae9f" stroke-width="3" />
<line x1="602.1" y1="175.4" x2="625.7" y2="181.1" stroke="#dcdcd8" stroke-width="7" />
<ellipse cx="602.1" cy="175.4" rx="7.6" ry="8.6" fill="#f0f0ed" />
<ellipse cx="626.2" cy="181.1" rx="8" ry="8.4" fill="#f2f2ef" />
<ellipse cx="627.5" cy="181.5" rx="4.6" ry="5.2" fill="#dededa" />
<line x1="698.3" y1="156.1" x2="706.2" y2="177.1" stroke="#dadad6" stroke-width="8" />
<ellipse cx="704.8" cy="165.7" rx="10.5" ry="7.8" fill="#f1f1ee" />
<ellipse cx="706.5" cy="178.3" rx="7.6" ry="7.4" fill="#efefeb" />
<line x1="604.4" y1="395.5" x2="625.6" y2="414.8" stroke="#dcdcd8" stroke-width="5.5" />
<ellipse cx="604.4" cy="395.5" rx="8.2" ry="8" fill="#ecece8" />
<ellipse cx="605" cy="396" rx="4" ry="4" fill="#cfcfca" />
<ellipse cx="625.6" cy="414.8" rx="7" ry="7.2" fill="#e9e9e5" />
<ellipse cx="697.8" cy="396.5" rx="10" ry="8.5" fill="#ecece8" />
<ellipse cx="697.8" cy="397" rx="4.5" ry="4" fill="#cfcfca" />
<line x1="697.5" y1="398" x2="697" y2="412" stroke="#dadad6" stroke-width="6" />
<ellipse cx="697" cy="413.5" rx="8.6" ry="8" fill="#ebebe7" />
</g>
<line x1="401" y1="110.5" x2="247.5" y2="210" stroke="#ED7D31" stroke-width="5" />
<ellipse cx="247.5" cy="210" rx="7.6" ry="7.6" fill="#ED7D31" />
<line x1="754" y1="59" x2="619.5" y2="157.3" stroke="#ED7D31" stroke-width="5" />
<ellipse cx="619.5" cy="157.3" rx="8" ry="8" fill="#ED7D31" />
<line x1="213.5" y1="404.5" x2="149.5" y2="319.3" stroke="#ED7D31" stroke-width="5" />
<ellipse cx="149.5" cy="319.3" rx="7.6" ry="7.6" fill="#ED7D31" />
<line x1="813" y1="446.6" x2="695.5" y2="411.3" stroke="#ED7D31" stroke-width="5" />
<ellipse cx="695.5" cy="411.3" rx="8" ry="8" fill="#ED7D31" />
<rect x="324" y="20.8" width="145" height="92.1" fill="#fff" />
<text x="396.5" y="58.8" font-size="36.1" text-anchor="middle" fill="#000" stroke="#000" stroke-width="0.3" font-family='"Liberation Serif", "Times New Roman", Times, serif'>Fixed</text>
<text x="396.5" y="102.1" font-size="36.1" text-anchor="middle" fill="#000" stroke="#000" stroke-width="0.3" font-family='"Liberation Serif", "Times New Roman", Times, serif'>Pulley</text>
<rect x="651" y="14.3" width="199" height="47.8" fill="#fff" />
<text x="750.5" y="51.2" font-size="36.1" text-anchor="middle" fill="#000" stroke="#000" stroke-width="0.3" font-family='"Liberation Serif", "Times New Roman", Times, serif'>Plate Center</text>
<rect x="140" y="401.3" width="144" height="92.5" fill="#fff" />
<text x="212" y="439" font-size="35.9" text-anchor="middle" fill="#000" stroke="#000" stroke-width="0.3" font-family='"Liberation Serif", "Times New Roman", Times, serif'>To</text>
<text x="212" y="482.4" font-size="35.9" text-anchor="middle" fill="#000" stroke="#000" stroke-width="0.3" font-family='"Liberation Serif", "Times New Roman", Times, serif'>Weights</text>
<rect x="767.2" y="445.1" width="82.9" height="48.8" fill="#fff" />
<text x="808.7" y="481.6" font-size="36.1" text-anchor="middle" fill="#000" stroke="#000" stroke-width="0.3" font-family='"Liberation Serif", "Times New Roman", Times, serif'>Plug</text>
</g>
<text transform="translate(79.2 31.2) scale(1.035 1)" font-size="37.4" text-anchor="start" font-weight="bold" fill="#000" stroke="#000" stroke-width="0.2" font-family='"Liberation Sans", Arial, Helvetica, sans-serif' >A</text>
<text transform="translate(2.2 579.6) scale(0.95 1)" font-size="37.4" text-anchor="start" font-weight="bold" fill="#000" stroke="#000" stroke-width="0.2" font-family='"Liberation Sans", Arial, Helvetica, sans-serif' >B</text>
<text transform="translate(627.1 579.9) scale(0.95 1)" font-size="37.4" text-anchor="start" font-weight="bold" fill="#000" stroke="#000" stroke-width="0.2" font-family='"Liberation Sans", Arial, Helvetica, sans-serif' >C</text>
<text transform="translate(1220.8 579.6) scale(0.95 1)" font-size="37.4" text-anchor="start" font-weight="bold" fill="#000" stroke="#000" stroke-width="0.2" font-family='"Liberation Sans", Arial, Helvetica, sans-serif' >D</text>
<text transform="translate(905 31.5) scale(0.95 1)" font-size="37.4" text-anchor="start" font-weight="bold" fill="#000" stroke="#000" stroke-width="0.2" font-family='"Liberation Sans", Arial, Helvetica, sans-serif' >E</text>
<path d="M144.54 962.2v-6.2M144.54 611.8v6.2M219.38 962.2v-6.2M219.38 611.8v6.2M294.23 962.2v-6.2M294.23 611.8v6.2M369.07 962.2v-6.2M369.07 611.8v6.2M443.91 962.2v-6.2M443.91 611.8v6.2M518.75 962.2v-6.2M518.75 611.8v6.2M69.7 892.12h6.2M543.7 892.12h-6.2M69.7 822.04h6.2M543.7 822.04h-6.2M69.7 751.96h6.2M543.7 751.96h-6.2M69.7 681.88h6.2M543.7 681.88h-6.2" stroke="#262626" stroke-width="3" fill="none"/>
<rect x="69.7" y="611.8" width="474" height="350.4" fill="none" stroke="#262626" stroke-width="3"/>
<text transform="translate(69.7 995) scale(0.91 1)" font-size="26.7" text-anchor="middle" font-weight="normal" fill="#262626" stroke="#262626" stroke-width="0.2" font-family='"Liberation Serif", "Times New Roman", Times, serif' >3</text>
<text transform="translate(144.54 995) scale(0.91 1)" font-size="26.7" text-anchor="middle" font-weight="normal" fill="#262626" stroke="#262626" stroke-width="0.2" font-family='"Liberation Serif", "Times New Roman", Times, serif' >6</text>
<text transform="translate(219.38 995) scale(0.91 1)" font-size="26.7" text-anchor="middle" font-weight="normal" fill="#262626" stroke="#262626" stroke-width="0.2" font-family='"Liberation Serif", "Times New Roman", Times, serif' >9</text>
<text transform="translate(294.23 995) scale(0.91 1)" font-size="26.7" text-anchor="middle" font-weight="normal" fill="#262626" stroke="#262626" stroke-width="0.2" font-family='"Liberation Serif", "Times New Roman", Times, serif' >12</text>
<text transform="translate(369.07 995) scale(0.91 1)" font-size="26.7" text-anchor="middle" font-weight="normal" fill="#262626" stroke="#262626" stroke-width="0.2" font-family='"Liberation Serif", "Times New Roman", Times, serif' >15</text>
<text transform="translate(443.91 995) scale(0.91 1)" font-size="26.7" text-anchor="middle" font-weight="normal" fill="#262626" stroke="#262626" stroke-width="0.2" font-family='"Liberation Serif", "Times New Roman", Times, serif' >18</text>
<text transform="translate(518.75 995) scale(0.91 1)" font-size="26.7" text-anchor="middle" font-weight="normal" fill="#262626" stroke="#262626" stroke-width="0.2" font-family='"Liberation Serif", "Times New Roman", Times, serif' >21</text>
<text transform="translate(60.4 972.3) scale(0.91 1)" font-size="26.7" text-anchor="end" font-weight="normal" fill="#262626" stroke="#262626" stroke-width="0.2" font-family='"Liberation Serif", "Times New Roman", Times, serif' >0</text>
<text transform="translate(60.4 902.22) scale(0.91 1)" font-size="26.7" text-anchor="end" font-weight="normal" fill="#262626" stroke="#262626" stroke-width="0.2" font-family='"Liberation Serif", "Times New Roman", Times, serif' >2</text>
<text transform="translate(60.4 832.14) scale(0.91 1)" font-size="26.7" text-anchor="end" font-weight="normal" fill="#262626" stroke="#262626" stroke-width="0.2" font-family='"Liberation Serif", "Times New Roman", Times, serif' >4</text>
<text transform="translate(60.4 762.06) scale(0.91 1)" font-size="26.7" text-anchor="end" font-weight="normal" fill="#262626" stroke="#262626" stroke-width="0.2" font-family='"Liberation Serif", "Times New Roman", Times, serif' >6</text>
<text transform="translate(60.4 691.98) scale(0.91 1)" font-size="26.7" text-anchor="end" font-weight="normal" fill="#262626" stroke="#262626" stroke-width="0.2" font-family='"Liberation Serif", "Times New Roman", Times, serif' >8</text>
<text transform="translate(60.4 621.9) scale(0.91 1)" font-size="26.7" text-anchor="end" font-weight="normal" fill="#262626" stroke="#262626" stroke-width="0.2" font-family='"Liberation Serif", "Times New Roman", Times, serif' >10</text>
<path d="M116.55 778.59 L238.79 767.73 L361.03 762.47 L483.28 760.72" fill="none" stroke="#0072BD" stroke-width="3" stroke-dasharray="11.2 11.2" stroke-dashoffset="0"/>
<circle cx="116.55" cy="778.8" r="4.3" fill="none" stroke="#0072BD" stroke-width="2.7"/>
<circle cx="238.79" cy="772.04" r="4.3" fill="none" stroke="#0072BD" stroke-width="2.7"/>
<circle cx="361.03" cy="764.78" r="4.3" fill="none" stroke="#0072BD" stroke-width="2.7"/>
<circle cx="483.28" cy="760.79" r="4.3" fill="none" stroke="#0072BD" stroke-width="2.7"/>
<path d="M116.55 901.13 L238.79 897.73 L361.03 895.41 L483.28 894.36" fill="none" stroke="#FF0000" stroke-width="3" stroke-dasharray="11.2 11.2" stroke-dashoffset="0"/>
<circle cx="116.55" cy="874.42" r="4.3" fill="none" stroke="#FF0000" stroke-width="2.7"/>
<circle cx="238.79" cy="867.31" r="4.3" fill="none" stroke="#FF0000" stroke-width="2.7"/>
<circle cx="361.03" cy="876" r="4.3" fill="none" stroke="#FF0000" stroke-width="2.7"/>
<circle cx="483.28" cy="876.18" r="4.3" fill="none" stroke="#FF0000" stroke-width="2.7"/>
<text transform="translate(24.6 787) rotate(-90)" font-size="32" text-anchor="middle" font-weight="bold" fill="#262626" font-family='"Liberation Serif", "Times New Roman", Times, serif' >Lateral Stiffness (N/mm)</text>
<text x="306.7" y="1031" font-size="32" text-anchor="middle" font-weight="bold" fill="#262626" stroke="#262626" stroke-width="0.2" font-family='"Liberation Serif", "Times New Roman", Times, serif' >Lateral force (N)</text>
<text x="90.2" y="669.5" font-size="36.2" text-anchor="start" font-weight="normal" fill="#000" stroke="#000" stroke-width="0.2" font-family='"Liberation Serif", "Times New Roman", Times, serif' >36-7-Shore</text>
<rect x="264.6" y="623.5" width="267.9" height="62.8" fill="#fff" stroke="#262626" stroke-width="3"/>
<line x1="269" y1="640.1" x2="280.2" y2="640.1" stroke="#0072BD" stroke-width="3"/>
<line x1="283.9" y1="640.1" x2="291" y2="640.1" stroke="#0072BD" stroke-width="3"/>
<line x1="302" y1="640.1" x2="313" y2="640.1" stroke="#0072BD" stroke-width="3"/>
<text transform="translate(316.4 649.4) scale(1.012 1)" font-size="25.9" text-anchor="start" font-weight="normal" fill="#000" stroke="#000" stroke-width="0.2" font-family='"Liberation Serif", "Times New Roman", Times, serif' >90A FEM</text>
<circle cx="452.8" cy="640.1" r="4.3" fill="none" stroke="#0072BD" stroke-width="2.7"/>
<text transform="translate(478.4 649.4) scale(1.012 1)" font-size="25.9" text-anchor="start" font-weight="normal" fill="#000" stroke="#000" stroke-width="0.2" font-family='"Liberation Serif", "Times New Roman", Times, serif' >EXP</text>
<line x1="269" y1="669.9" x2="280.2" y2="669.9" stroke="#FF0000" stroke-width="3"/>
<line x1="283.9" y1="669.9" x2="291" y2="669.9" stroke="#FF0000" stroke-width="3"/>
<line x1="302" y1="669.9" x2="313" y2="669.9" stroke="#FF0000" stroke-width="3"/>
<text transform="translate(316.4 679.2) scale(1.012 1)" font-size="25.9" text-anchor="start" font-weight="normal" fill="#000" stroke="#000" stroke-width="0.2" font-family='"Liberation Serif", "Times New Roman", Times, serif' >70A FEM</text>
<circle cx="452.8" cy="669.9" r="4.3" fill="none" stroke="#FF0000" stroke-width="2.7"/>
<text transform="translate(478.4 679.2) scale(1.012 1)" font-size="25.9" text-anchor="start" font-weight="normal" fill="#000" stroke="#000" stroke-width="0.2" font-family='"Liberation Serif", "Times New Roman", Times, serif' >EXP</text>
<path d="M760.57 962.2v-6.2M760.57 611.8v6.2M839.63 962.2v-6.2M839.63 611.8v6.2M918.7 962.2v-6.2M918.7 611.8v6.2M997.77 962.2v-6.2M997.77 611.8v6.2M1076.83 962.2v-6.2M1076.83 611.8v6.2M681.5 923.27h6.2M1155.9 923.27h-6.2M681.5 845.4h6.2M1155.9 845.4h-6.2M681.5 767.53h6.2M1155.9 767.53h-6.2M681.5 689.67h6.2M1155.9 689.67h-6.2" stroke="#262626" stroke-width="3" fill="none"/>
<rect x="681.5" y="611.8" width="474.4" height="350.4" fill="none" stroke="#262626" stroke-width="3"/>
<text transform="translate(681.5 995) scale(0.91 1)" font-size="26.7" text-anchor="middle" font-weight="normal" fill="#262626" stroke="#262626" stroke-width="0.2" font-family='"Liberation Serif", "Times New Roman", Times, serif' >3</text>
<text transform="translate(760.57 995) scale(0.91 1)" font-size="26.7" text-anchor="middle" font-weight="normal" fill="#262626" stroke="#262626" stroke-width="0.2" font-family='"Liberation Serif", "Times New Roman", Times, serif' >6</text>
<text transform="translate(839.63 995) scale(0.91 1)" font-size="26.7" text-anchor="middle" font-weight="normal" fill="#262626" stroke="#262626" stroke-width="0.2" font-family='"Liberation Serif", "Times New Roman", Times, serif' >9</text>
<text transform="translate(918.7 995) scale(0.91 1)" font-size="26.7" text-anchor="middle" font-weight="normal" fill="#262626" stroke="#262626" stroke-width="0.2" font-family='"Liberation Serif", "Times New Roman", Times, serif' >12</text>
<text transform="translate(997.77 995) scale(0.91 1)" font-size="26.7" text-anchor="middle" font-weight="normal" fill="#262626" stroke="#262626" stroke-width="0.2" font-family='"Liberation Serif", "Times New Roman", Times, serif' >15</text>
<text transform="translate(1076.83 995) scale(0.91 1)" font-size="26.7" text-anchor="middle" font-weight="normal" fill="#262626" stroke="#262626" stroke-width="0.2" font-family='"Liberation Serif", "Times New Roman", Times, serif' >18</text>
<text transform="translate(1155.9 995) scale(0.91 1)" font-size="26.7" text-anchor="middle" font-weight="normal" fill="#262626" stroke="#262626" stroke-width="0.2" font-family='"Liberation Serif", "Times New Roman", Times, serif' >21</text>
<text transform="translate(672.2 933.37) scale(0.91 1)" font-size="26.7" text-anchor="end" font-weight="normal" fill="#262626" stroke="#262626" stroke-width="0.2" font-family='"Liberation Serif", "Times New Roman", Times, serif' >5</text>
<text transform="translate(672.2 855.5) scale(0.91 1)" font-size="26.7" text-anchor="end" font-weight="normal" fill="#262626" stroke="#262626" stroke-width="0.2" font-family='"Liberation Serif", "Times New Roman", Times, serif' >6</text>
<text transform="translate(672.2 777.63) scale(0.91 1)" font-size="26.7" text-anchor="end" font-weight="normal" fill="#262626" stroke="#262626" stroke-width="0.2" font-family='"Liberation Serif", "Times New Roman", Times, serif' >7</text>
<text transform="translate(672.2 699.77) scale(0.91 1)" font-size="26.7" text-anchor="end" font-weight="normal" fill="#262626" stroke="#262626" stroke-width="0.2" font-family='"Liberation Serif", "Times New Roman", Times, serif' >8</text>
<text transform="translate(672.2 621.9) scale(0.91 1)" font-size="26.7" text-anchor="end" font-weight="normal" fill="#262626" stroke="#262626" stroke-width="0.2" font-family='"Liberation Serif", "Times New Roman", Times, serif' >9</text>
<path d="M731.03 904.58 L860.17 878.49 L989.31 869.15 L1118.45 864.32" fill="none" stroke="#0072BD" stroke-width="3" stroke-dasharray="11.2 11.2" stroke-dashoffset="0"/>
<circle cx="731.03" cy="904.97" r="4.3" fill="none" stroke="#0072BD" stroke-width="2.7"/>
<circle cx="860.17" cy="889.71" r="4.3" fill="none" stroke="#0072BD" stroke-width="2.7"/>
<circle cx="989.31" cy="873.43" r="4.3" fill="none" stroke="#0072BD" stroke-width="2.7"/>
<circle cx="1118.45" cy="864.79" r="4.3" fill="none" stroke="#0072BD" stroke-width="2.7"/>
<path d="M731.03 873.43 L860.17 844.31 L989.31 834.5 L1118.45 828.89" fill="none" stroke="#FF0000" stroke-width="3" stroke-dasharray="11.2 11.2" stroke-dashoffset="0"/>
<circle cx="731.03" cy="864.79" r="4.3" fill="none" stroke="#FF0000" stroke-width="2.7"/>
<circle cx="860.17" cy="836.91" r="4.3" fill="none" stroke="#FF0000" stroke-width="2.7"/>
<circle cx="989.31" cy="840.88" r="4.3" fill="none" stroke="#FF0000" stroke-width="2.7"/>
<circle cx="1118.45" cy="813.47" r="4.3" fill="none" stroke="#FF0000" stroke-width="2.7"/>
<path d="M731.03 817.52 L860.17 784.04 L989.31 773.3 L1118.45 767.22" fill="none" stroke="#00FF00" stroke-width="3" stroke-dasharray="11.2 11.2" stroke-dashoffset="0"/>
<circle cx="731.03" cy="793.62" r="4.3" fill="none" stroke="#00FF00" stroke-width="2.7"/>
<circle cx="860.17" cy="781.63" r="4.3" fill="none" stroke="#00FF00" stroke-width="2.7"/>
<circle cx="989.31" cy="768.78" r="4.3" fill="none" stroke="#00FF00" stroke-width="2.7"/>
<circle cx="1118.45" cy="755.46" r="4.3" fill="none" stroke="#00FF00" stroke-width="2.7"/>
<text transform="translate(650.2 787) rotate(-90)" font-size="32" text-anchor="middle" font-weight="bold" fill="#262626" font-family='"Liberation Serif", "Times New Roman", Times, serif' >Lateral Stiffness (N/mm)</text>
<text x="918.6" y="1031" font-size="32" text-anchor="middle" font-weight="bold" fill="#262626" stroke="#262626" stroke-width="0.2" font-family='"Liberation Serif", "Times New Roman", Times, serif' >Lateral force (N)</text>
<text x="712.6" y="671.6" font-size="36.2" text-anchor="start" font-weight="normal" fill="#000" stroke="#000" stroke-width="0.2" font-family='"Liberation Serif", "Times New Roman", Times, serif' >R-7-90A</text>
<rect x="863.7" y="623.4" width="280.8" height="93.1" fill="#fff" stroke="#262626" stroke-width="3"/>
<line x1="868.1" y1="639.8" x2="879.3" y2="639.8" stroke="#0072BD" stroke-width="3"/>
<line x1="890.1" y1="639.8" x2="903.3" y2="639.8" stroke="#0072BD" stroke-width="3"/>
<text transform="translate(914.9 649.1) scale(1.012 1)" font-size="25.9" text-anchor="start" font-weight="normal" fill="#000" stroke="#000" stroke-width="0.2" font-family='"Liberation Serif", "Times New Roman", Times, serif' >R=36 FEM</text>
<circle cx="1064.9" cy="639.8" r="4.3" fill="none" stroke="#0072BD" stroke-width="2.7"/>
<text transform="translate(1090.6 649.1) scale(1.012 1)" font-size="25.9" text-anchor="start" font-weight="normal" fill="#000" stroke="#000" stroke-width="0.2" font-family='"Liberation Serif", "Times New Roman", Times, serif' >EXP</text>
<line x1="868.1" y1="669.8" x2="879.3" y2="669.8" stroke="#FF0000" stroke-width="3"/>
<line x1="890.1" y1="669.8" x2="903.3" y2="669.8" stroke="#FF0000" stroke-width="3"/>
<text transform="translate(914.9 679.1) scale(1.012 1)" font-size="25.9" text-anchor="start" font-weight="normal" fill="#000" stroke="#000" stroke-width="0.2" font-family='"Liberation Serif", "Times New Roman", Times, serif' >R=46 FEM</text>
<circle cx="1064.9" cy="669.8" r="4.3" fill="none" stroke="#FF0000" stroke-width="2.7"/>
<text transform="translate(1090.6 679.1) scale(1.012 1)" font-size="25.9" text-anchor="start" font-weight="normal" fill="#000" stroke="#000" stroke-width="0.2" font-family='"Liberation Serif", "Times New Roman", Times, serif' >EXP</text>
<line x1="868.1" y1="699.8" x2="879.3" y2="699.8" stroke="#00FF00" stroke-width="3"/>
<line x1="890.1" y1="699.8" x2="903.3" y2="699.8" stroke="#00FF00" stroke-width="3"/>
<text transform="translate(914.9 709.1) scale(1.012 1)" font-size="25.9" text-anchor="start" font-weight="normal" fill="#000" stroke="#000" stroke-width="0.2" font-family='"Liberation Serif", "Times New Roman", Times, serif' >R=56 FEM</text>
<circle cx="1064.9" cy="699.8" r="4.3" fill="none" stroke="#00FF00" stroke-width="2.7"/>
<text transform="translate(1090.6 709.1) scale(1.012 1)" font-size="25.9" text-anchor="start" font-weight="normal" fill="#000" stroke="#000" stroke-width="0.2" font-family='"Liberation Serif", "Times New Roman", Times, serif' >EXP</text>
<path d="M1368.71 962.2v-6.2M1368.71 611.8v6.2M1443.61 962.2v-6.2M1443.61 611.8v6.2M1518.52 962.2v-6.2M1518.52 611.8v6.2M1593.42 962.2v-6.2M1593.42 611.8v6.2M1668.33 962.2v-6.2M1668.33 611.8v6.2M1743.23 962.2v-6.2M1743.23 611.8v6.2M1293.8 892.12h6.2M1768.2 892.12h-6.2M1293.8 822.04h6.2M1768.2 822.04h-6.2M1293.8 751.96h6.2M1768.2 751.96h-6.2M1293.8 681.88h6.2M1768.2 681.88h-6.2" stroke="#262626" stroke-width="3" fill="none"/>
<rect x="1293.8" y="611.8" width="474.4" height="350.4" fill="none" stroke="#262626" stroke-width="3"/>
<text transform="translate(1293.8 995) scale(0.91 1)" font-size="26.7" text-anchor="middle" font-weight="normal" fill="#262626" stroke="#262626" stroke-width="0.2" font-family='"Liberation Serif", "Times New Roman", Times, serif' >3</text>
<text transform="translate(1368.71 995) scale(0.91 1)" font-size="26.7" text-anchor="middle" font-weight="normal" fill="#262626" stroke="#262626" stroke-width="0.2" font-family='"Liberation Serif", "Times New Roman", Times, serif' >6</text>
<text transform="translate(1443.61 995) scale(0.91 1)" font-size="26.7" text-anchor="middle" font-weight="normal" fill="#262626" stroke="#262626" stroke-width="0.2" font-family='"Liberation Serif", "Times New Roman", Times, serif' >9</text>
<text transform="translate(1518.52 995) scale(0.91 1)" font-size="26.7" text-anchor="middle" font-weight="normal" fill="#262626" stroke="#262626" stroke-width="0.2" font-family='"Liberation Serif", "Times New Roman", Times, serif' >12</text>
<text transform="translate(1593.42 995) scale(0.91 1)" font-size="26.7" text-anchor="middle" font-weight="normal" fill="#262626" stroke="#262626" stroke-width="0.2" font-family='"Liberation Serif", "Times New Roman", Times, serif' >15</text>
<text transform="translate(1668.33 995) scale(0.91 1)" font-size="26.7" text-anchor="middle" font-weight="normal" fill="#262626" stroke="#262626" stroke-width="0.2" font-family='"Liberation Serif", "Times New Roman", Times, serif' >18</text>
<text transform="translate(1743.23 995) scale(0.91 1)" font-size="26.7" text-anchor="middle" font-weight="normal" fill="#262626" stroke="#262626" stroke-width="0.2" font-family='"Liberation Serif", "Times New Roman", Times, serif' >21</text>
<text transform="translate(1284.5 972.3) scale(0.91 1)" font-size="26.7" text-anchor="end" font-weight="normal" fill="#262626" stroke="#262626" stroke-width="0.2" font-family='"Liberation Serif", "Times New Roman", Times, serif' >0</text>
<text transform="translate(1284.5 902.22) scale(0.91 1)" font-size="26.7" text-anchor="end" font-weight="normal" fill="#262626" stroke="#262626" stroke-width="0.2" font-family='"Liberation Serif", "Times New Roman", Times, serif' >4</text>
<text transform="translate(1284.5 832.14) scale(0.91 1)" font-size="26.7" text-anchor="end" font-weight="normal" fill="#262626" stroke="#262626" stroke-width="0.2" font-family='"Liberation Serif", "Times New Roman", Times, serif' >8</text>
<text transform="translate(1284.5 762.06) scale(0.91 1)" font-size="26.7" text-anchor="end" font-weight="normal" fill="#262626" stroke="#262626" stroke-width="0.2" font-family='"Liberation Serif", "Times New Roman", Times, serif' >12</text>
<text transform="translate(1284.5 691.98) scale(0.91 1)" font-size="26.7" text-anchor="end" font-weight="normal" fill="#262626" stroke="#262626" stroke-width="0.2" font-family='"Liberation Serif", "Times New Roman", Times, serif' >16</text>
<text transform="translate(1284.5 621.9) scale(0.91 1)" font-size="26.7" text-anchor="end" font-weight="normal" fill="#262626" stroke="#262626" stroke-width="0.2" font-family='"Liberation Serif", "Times New Roman", Times, serif' >20</text>
<path d="M1340.69 771.58 L1463.04 759.14 L1585.38 754.24 L1707.73 752.14" fill="none" stroke="#FF0000" stroke-width="3" stroke-dasharray="11.2 11.2" stroke-dashoffset="0"/>
<circle cx="1340.69" cy="758.27" r="4.3" fill="none" stroke="#FF0000" stroke-width="2.7"/>
<circle cx="1463.04" cy="755.99" r="4.3" fill="none" stroke="#FF0000" stroke-width="2.7"/>
<circle cx="1585.38" cy="748.11" r="4.3" fill="none" stroke="#FF0000" stroke-width="2.7"/>
<circle cx="1707.73" cy="741.27" r="4.3" fill="none" stroke="#FF0000" stroke-width="2.7"/>
<path d="M1340.69 870.4 L1463.04 864.96 L1585.38 862.34 L1707.73 861.46" fill="none" stroke="#0072BD" stroke-width="3" stroke-dasharray="11.2 11.2" stroke-dashoffset="0"/>
<circle cx="1340.69" cy="870.75" r="4.3" fill="none" stroke="#0072BD" stroke-width="2.7"/>
<circle cx="1463.04" cy="867.24" r="4.3" fill="none" stroke="#0072BD" stroke-width="2.7"/>
<circle cx="1585.38" cy="863.39" r="4.3" fill="none" stroke="#0072BD" stroke-width="2.7"/>
<circle cx="1707.73" cy="861.64" r="4.3" fill="none" stroke="#0072BD" stroke-width="2.7"/>
<path d="M1340.69 916.3 L1463.04 913.67 L1585.38 912.27 L1707.73 911.92" fill="none" stroke="#00FF00" stroke-width="3" stroke-dasharray="11.2 11.2" stroke-dashoffset="0"/>
<circle cx="1340.69" cy="910.6" r="4.3" fill="none" stroke="#00FF00" stroke-width="2.7"/>
<circle cx="1463.04" cy="913.32" r="4.3" fill="none" stroke="#00FF00" stroke-width="2.7"/>
<circle cx="1585.38" cy="914.72" r="4.3" fill="none" stroke="#00FF00" stroke-width="2.7"/>
<circle cx="1707.73" cy="915.6" r="4.3" fill="none" stroke="#00FF00" stroke-width="2.7"/>
<text transform="translate(1248.8 787) rotate(-90)" font-size="32" text-anchor="middle" font-weight="bold" fill="#262626" font-family='"Liberation Serif", "Times New Roman", Times, serif' >Lateral Stiffness (N/mm)</text>
<text x="1531" y="1031" font-size="32" text-anchor="middle" font-weight="bold" fill="#262626" stroke="#262626" stroke-width="0.2" font-family='"Liberation Serif", "Times New Roman", Times, serif' >Lateral force (N)</text>
<text x="1314.6" y="672" font-size="36.2" text-anchor="start" font-weight="normal" fill="#000" stroke="#000" stroke-width="0.2" font-family='"Liberation Serif", "Times New Roman", Times, serif' >36-N-90A</text>
<rect x="1487" y="623.4" width="269.6" height="93.4" fill="#fff" stroke="#262626" stroke-width="3"/>
<line x1="1490.8" y1="639.9" x2="1502.3" y2="639.9" stroke="#FF0000" stroke-width="3"/>
<line x1="1507.9" y1="639.9" x2="1515.5" y2="639.9" stroke="#FF0000" stroke-width="3"/>
<line x1="1526" y1="639.9" x2="1535.4" y2="639.9" stroke="#FF0000" stroke-width="3"/>
<text transform="translate(1538.2 649.2) scale(1.012 1)" font-size="25.9" text-anchor="start" font-weight="normal" fill="#000" stroke="#000" stroke-width="0.2" font-family='"Liberation Serif", "Times New Roman", Times, serif' >N=5 FEM</text>
<circle cx="1676.9" cy="639.9" r="4.3" fill="none" stroke="#FF0000" stroke-width="2.7"/>
<text transform="translate(1702.5 649.2) scale(1.012 1)" font-size="25.9" text-anchor="start" font-weight="normal" fill="#000" stroke="#000" stroke-width="0.2" font-family='"Liberation Serif", "Times New Roman", Times, serif' >EXP</text>
<line x1="1490.8" y1="670.1" x2="1502.3" y2="670.1" stroke="#0072BD" stroke-width="3"/>
<line x1="1507.9" y1="670.1" x2="1515.5" y2="670.1" stroke="#0072BD" stroke-width="3"/>
<line x1="1526" y1="670.1" x2="1535.4" y2="670.1" stroke="#0072BD" stroke-width="3"/>
<text transform="translate(1538.2 679.4) scale(1.012 1)" font-size="25.9" text-anchor="start" font-weight="normal" fill="#000" stroke="#000" stroke-width="0.2" font-family='"Liberation Serif", "Times New Roman", Times, serif' >N=7 FEM</text>
<circle cx="1676.9" cy="670.1" r="4.3" fill="none" stroke="#0072BD" stroke-width="2.7"/>
<text transform="translate(1702.5 679.4) scale(1.012 1)" font-size="25.9" text-anchor="start" font-weight="normal" fill="#000" stroke="#000" stroke-width="0.2" font-family='"Liberation Serif", "Times New Roman", Times, serif' >EXP</text>
<line x1="1490.8" y1="700.2" x2="1502.3" y2="700.2" stroke="#00FF00" stroke-width="3"/>
<line x1="1507.9" y1="700.2" x2="1515.5" y2="700.2" stroke="#00FF00" stroke-width="3"/>
<line x1="1526" y1="700.2" x2="1535.4" y2="700.2" stroke="#00FF00" stroke-width="3"/>
<text transform="translate(1538.2 709.5) scale(1.012 1)" font-size="25.9" text-anchor="start" font-weight="normal" fill="#000" stroke="#000" stroke-width="0.2" font-family='"Liberation Serif", "Times New Roman", Times, serif' >N=9 FEM</text>
<circle cx="1676.9" cy="700.2" r="4.3" fill="none" stroke="#00FF00" stroke-width="2.7"/>
<text transform="translate(1702.5 709.5) scale(1.012 1)" font-size="25.9" text-anchor="start" font-weight="normal" fill="#000" stroke="#000" stroke-width="0.2" font-family='"Liberation Serif", "Times New Roman", Times, serif' >EXP</text>
<path d="M1127.9 443v-6.9M1127.9 20.7v6.9M1234.8 443v-6.9M1234.8 20.7v6.9M1341.7 443v-6.9M1341.7 20.7v6.9M1448.6 443v-6.9M1448.6 20.7v6.9M1021 382.67h6.9M1555.5 382.67h-6.9M1021 322.34h6.9M1555.5 322.34h-6.9M1021 262.01h6.9M1555.5 262.01h-6.9M1021 201.69h6.9M1555.5 201.69h-6.9M1021 141.36h6.9M1555.5 141.36h-6.9M1021 81.03h6.9M1555.5 81.03h-6.9" stroke="#262626" stroke-width="3" fill="none"/>
<rect x="1021" y="20.7" width="534.5" height="422.3" fill="none" stroke="#262626" stroke-width="3"/>
<text transform="translate(1021.4 479.6) scale(0.925 1)" font-size="30.2" text-anchor="middle" font-weight="normal" fill="#262626" stroke="#262626" stroke-width="0.2" font-family='"Liberation Serif", "Times New Roman", Times, serif' >0.6</text>
<text transform="translate(1128.3 479.6) scale(0.925 1)" font-size="30.2" text-anchor="middle" font-weight="normal" fill="#262626" stroke="#262626" stroke-width="0.2" font-family='"Liberation Serif", "Times New Roman", Times, serif' >0.8</text>
<text transform="translate(1235.2 479.6) scale(0.925 1)" font-size="30.2" text-anchor="middle" font-weight="normal" fill="#262626" stroke="#262626" stroke-width="0.2" font-family='"Liberation Serif", "Times New Roman", Times, serif' >1</text>
<text transform="translate(1342.1 479.6) scale(0.925 1)" font-size="30.2" text-anchor="middle" font-weight="normal" fill="#262626" stroke="#262626" stroke-width="0.2" font-family='"Liberation Serif", "Times New Roman", Times, serif' >1.2</text>
<text transform="translate(1449 479.6) scale(0.925 1)" font-size="30.2" text-anchor="middle" font-weight="normal" fill="#262626" stroke="#262626" stroke-width="0.2" font-family='"Liberation Serif", "Times New Roman", Times, serif' >1.4</text>
<text transform="translate(1555.9 479.6) scale(0.925 1)" font-size="30.2" text-anchor="middle" font-weight="normal" fill="#262626" stroke="#262626" stroke-width="0.2" font-family='"Liberation Serif", "Times New Roman", Times, serif' >1.6</text>
<text transform="translate(1010.7 453.9) scale(0.925 1)" font-size="30.2" text-anchor="end" font-weight="normal" fill="#262626" stroke="#262626" stroke-width="0.2" font-family='"Liberation Serif", "Times New Roman", Times, serif' >0</text>
<text transform="translate(1010.7 393.57) scale(0.925 1)" font-size="30.2" text-anchor="end" font-weight="normal" fill="#262626" stroke="#262626" stroke-width="0.2" font-family='"Liberation Serif", "Times New Roman", Times, serif' >2</text>
<text transform="translate(1010.7 333.24) scale(0.925 1)" font-size="30.2" text-anchor="end" font-weight="normal" fill="#262626" stroke="#262626" stroke-width="0.2" font-family='"Liberation Serif", "Times New Roman", Times, serif' >4</text>
<text transform="translate(1010.7 272.91) scale(0.925 1)" font-size="30.2" text-anchor="end" font-weight="normal" fill="#262626" stroke="#262626" stroke-width="0.2" font-family='"Liberation Serif", "Times New Roman", Times, serif' >6</text>
<text transform="translate(1010.7 212.59) scale(0.925 1)" font-size="30.2" text-anchor="end" font-weight="normal" fill="#262626" stroke="#262626" stroke-width="0.2" font-family='"Liberation Serif", "Times New Roman", Times, serif' >8</text>
<text transform="translate(1010.7 152.26) scale(0.925 1)" font-size="30.2" text-anchor="end" font-weight="normal" fill="#262626" stroke="#262626" stroke-width="0.2" font-family='"Liberation Serif", "Times New Roman", Times, serif' >10</text>
<text transform="translate(1010.7 91.93) scale(0.925 1)" font-size="30.2" text-anchor="end" font-weight="normal" fill="#262626" stroke="#262626" stroke-width="0.2" font-family='"Liberation Serif", "Times New Roman", Times, serif' >12</text>
<text transform="translate(1010.7 31.6) scale(0.925 1)" font-size="30.2" text-anchor="end" font-weight="normal" fill="#262626" stroke="#262626" stroke-width="0.2" font-family='"Liberation Serif", "Times New Roman", Times, serif' >14</text>
<path d="M1082.09 86.46 L1234.8 275.14 L1387.51 359.14" fill="none" stroke="#0072BD" stroke-width="3.2" stroke-dasharray="12.7 12.5" stroke-dashoffset="0"/>
<path d="M1234.8 275.14 L1383.27 262.01 L1531.74 238.79" fill="none" stroke="#FF0000" stroke-width="3.2" stroke-dasharray="12.7 12.5" stroke-dashoffset="0"/>
<path d="M1116.02 387.02 L1234.8 275.14" fill="none" stroke="#00FF00" stroke-width="3.2" stroke-dasharray="12.7 12.5" stroke-dashoffset="0"/>
<circle cx="1082.09" cy="78.92" r="4.8" fill="none" stroke="#0072BD" stroke-width="3"/>
<circle cx="1387.51" cy="359.29" r="4.8" fill="none" stroke="#0072BD" stroke-width="3"/>
<circle cx="1383.27" cy="259.6" r="4.8" fill="none" stroke="#FF0000" stroke-width="3"/>
<circle cx="1531.74" cy="234.69" r="4.8" fill="none" stroke="#FF0000" stroke-width="3"/>
<circle cx="1116.02" cy="366.68" r="4.8" fill="none" stroke="#00FF00" stroke-width="3"/>
<circle cx="1234.8" cy="276.79" r="4.8" fill="none" stroke="#00FF00" stroke-width="3"/>
<text transform="translate(973.9 255) rotate(-90)" font-size="34.6" text-anchor="middle" font-weight="bold" fill="#262626" font-family='"Liberation Serif", "Times New Roman", Times, serif' >Average Lateral Stiffness (N/mm)</text>
<text transform="translate(1290.8 511) scale(1.04 1)" font-size="33.6" text-anchor="middle" font-weight="bold" fill="#262626" stroke="#262626" stroke-width="0.2" font-family='"Liberation Serif", "Times New Roman", Times, serif' >Parameter Ratio</text>
<text transform="translate(1218 163.3) scale(0.985 1)" font-size="33.2" text-anchor="start" font-weight="normal" fill="#000" stroke="#000" stroke-width="0.2" font-family='"Liberation Serif", "Times New Roman", Times, serif' >R=36mm</text>
<text transform="translate(1218 202.6) scale(0.985 1)" font-size="33.2" text-anchor="start" font-weight="normal" fill="#000" stroke="#000" stroke-width="0.2" font-family='"Liberation Serif", "Times New Roman", Times, serif' >N=7, Shore 90A</text>
<line x1="1272.4" y1="219.7" x2="1245" y2="257.3" stroke="#000" stroke-width="4.8"/>
<polygon points="1237.3,267.85 1240.15,252.45 1251.7,260.6" fill="#000"/>
<rect x="1347.1" y="33.4" width="196.1" height="105.7" fill="#fff" stroke="#262626" stroke-width="3"/>
<line x1="1351.9" y1="52.5" x2="1364.8" y2="52.5" stroke="#0072BD" stroke-width="3.2"/>
<line x1="1369" y1="52.5" x2="1377.7" y2="52.5" stroke="#0072BD" stroke-width="3.2"/>
<line x1="1390" y1="52.5" x2="1401.4" y2="52.5" stroke="#0072BD" stroke-width="3.2"/>
<text x="1405.3" y="63.1" font-size="29.7" text-anchor="start" font-weight="normal" fill="#000" stroke="#000" stroke-width="0.2" font-family='"Liberation Serif", "Times New Roman", Times, serif' >36-N-90A</text>
<line x1="1351.9" y1="86.4" x2="1364.8" y2="86.4" stroke="#FF0000" stroke-width="3.2"/>
<line x1="1369" y1="86.4" x2="1377.7" y2="86.4" stroke="#FF0000" stroke-width="3.2"/>
<line x1="1390" y1="86.4" x2="1401.4" y2="86.4" stroke="#FF0000" stroke-width="3.2"/>
<text x="1405.3" y="97" font-size="29.7" text-anchor="start" font-weight="normal" fill="#000" stroke="#000" stroke-width="0.2" font-family='"Liberation Serif", "Times New Roman", Times, serif' >R-7-90A</text>
<line x1="1351.9" y1="120.5" x2="1364.8" y2="120.5" stroke="#00FF00" stroke-width="3.2"/>
<line x1="1369" y1="120.5" x2="1377.7" y2="120.5" stroke="#00FF00" stroke-width="3.2"/>
<line x1="1390" y1="120.5" x2="1401.4" y2="120.5" stroke="#00FF00" stroke-width="3.2"/>
<text x="1405.3" y="131.1" font-size="29.7" text-anchor="start" font-weight="normal" fill="#000" stroke="#000" stroke-width="0.2" font-family='"Liberation Serif", "Times New Roman", Times, serif' >36-7-Shore</text>
<line x1="1587.7" y1="41.1" x2="1596.9" y2="41.1" stroke="#0072BD" stroke-width="3.2"/>
<line x1="1599.8" y1="41.1" x2="1609" y2="41.1" stroke="#0072BD" stroke-width="3.2"/>
<line x1="1612" y1="41.1" x2="1621.1" y2="41.1" stroke="#0072BD" stroke-width="3.2"/>
<line x1="1624.1" y1="41.1" x2="1629.3" y2="41.1" stroke="#0072BD" stroke-width="3.2"/>
<line x1="1587.7" y1="62.3" x2="1596.9" y2="62.3" stroke="#00FF00" stroke-width="3.2"/>
<line x1="1599.8" y1="62.3" x2="1609" y2="62.3" stroke="#00FF00" stroke-width="3.2"/>
<line x1="1612" y1="62.3" x2="1621.1" y2="62.3" stroke="#00FF00" stroke-width="3.2"/>
<line x1="1624.1" y1="62.3" x2="1629.3" y2="62.3" stroke="#00FF00" stroke-width="3.2"/>
<line x1="1587.7" y1="80.8" x2="1596.9" y2="80.8" stroke="#FF0000" stroke-width="3.2"/>
<line x1="1599.8" y1="80.8" x2="1609" y2="80.8" stroke="#FF0000" stroke-width="3.2"/>
<line x1="1612" y1="80.8" x2="1621.1" y2="80.8" stroke="#FF0000" stroke-width="3.2"/>
<line x1="1624.1" y1="80.8" x2="1629.3" y2="80.8" stroke="#FF0000" stroke-width="3.2"/>
<text x="1640.5" y="74.3" font-size="36.4" text-anchor="start" font-weight="normal" fill="#000" stroke="#000" stroke-width="0.2" font-family='"Liberation Serif", "Times New Roman", Times, serif' >FEM</text>
<circle cx="1612.5" cy="135.2" r="4.4" fill="none" stroke="#0072BD" stroke-width="2.8"/>
<circle cx="1612.5" cy="156.5" r="4.4" fill="none" stroke="#00FF00" stroke-width="2.8"/>
<circle cx="1612.5" cy="175" r="4.4" fill="none" stroke="#FF0000" stroke-width="2.8"/>
<text x="1640.5" y="168.3" font-size="36.4" text-anchor="start" font-weight="normal" fill="#000" stroke="#000" stroke-width="0.2" font-family='"Liberation Serif", "Times New Roman", Times, serif' >EXP</text>
</svg>
</body></html>
